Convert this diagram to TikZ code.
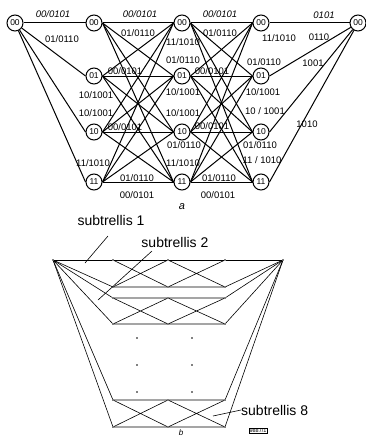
\documentclass[tikz,border=0pt]{standalone}
\usepackage{fontspec}
\setmainfont{Liberation Sans}
\begin{document}
\begin{tikzpicture}[x=1pt,y=-1pt,
  st/.style={circle,draw,line width=1pt,inner sep=0pt,minimum size=16pt,font=\fontsize{8.5}{9}\selectfont},
  lb/.style={font=\fontsize{9.5}{10}\selectfont,inner sep=0.5pt},
  lbi/.style={lb,font=\fontsize{9.5}{10}\selectfont\itshape},
  ed/.style={line width=1pt},
  tr/.style={line width=0.6pt},
  dt/.style={circle,fill,inner sep=0pt,minimum size=1.8pt},
  sub/.style={font=\fontsize{14}{15}\selectfont,inner sep=0pt}]
\useasboundingbox (0,0) rectangle (365,436);
% ---------- top trellis ----------
\node[st] (S) at (15,23) {00};
\foreach \n/\y in {00/23,01/76,10/132,11/182} {
  \node[st] (A\n) at (94,\y) {\n};
  \node[st] (B\n) at (182,\y) {\n};
  \node[st] (C\n) at (261,\y) {\n};
}
\node[st] (E) at (358,23) {00};
\foreach \n in {00,01,10,11} {
  \draw[ed] (S) -- (A\n.west);
  \draw[ed] (C\n.east) -- (E);
  \foreach \m in {00,01,10,11} {
    \draw[ed] (A\n.east) -- (B\m.west);
    \draw[ed] (B\n.east) -- (C\m.west);
  }
}
% labels
\node[lbi] (l1) at (53,14) {00/0101};
\node[lbi] (l2) at (140,14) {00/0101};
\node[lbi] (l3) at (220,14) {00/0101};
\node[lbi] (l4) at (324,15) {0101};
\node[lb] (l5) at (62,39) {01/0110};
\node[lb] (l6) at (138,33) {01/0110};
\node[lb] (l7) at (220,33) {01/0110};
\node[lb] (l8) at (319,37) {0110};
\node[lb] (l9) at (183,42) {11/1010};
\node[lb] (l10) at (279,38) {11/1010};
\node[lb] (l11) at (183,60) {01/0110};
\node[lb] (l12) at (264,62) {01/0110};
\node[lb] (l13) at (313,63) {1001};
\node[lb] (l14) at (125,71) {00/0101};
\node[lb] (l15) at (212,71) {00/0101};
\node[lb] (l16) at (96,95) {10/1001};
\node[lb] (l17) at (183,92) {10/1001};
\node[lb] (l18) at (263,92) {10/1001};
\node[lb] (l19) at (96,113) {10/1001};
\node[lb] (l20) at (183,113) {10/1001};
\node[lb] (l21) at (265,111) {10 / 1001};
\node[lb] (l22) at (125,127) {00/0101};
\node[lb] (l23) at (212,126) {00/0101};
\node[lb] (l24) at (307,124) {1010};
\node[lb] (l25) at (184,145) {01/0110};
\node[lb] (l26) at (260,145) {01/0110};
\node[lb] (l27) at (93,163) {11/1010};
\node[lb] (l28) at (183,163) {11/1010};
\node[lb] (l29) at (262,160) {11 / 1010};
\node[lb] (l30) at (137,178) {01/0110};
\node[lb] (l31) at (219,178) {01/0110};
\node[lb] (l32) at (137,195) {00/0101};
\node[lb] (l33) at (218,195) {00/0101};
\node[font=\fontsize{11}{11}\selectfont\itshape] (capa) at (182,207) {a};
% ---------- bottom trellis ----------
\node[dt] (L) at (53,260) {};
\node[dt] (R) at (283,260) {};
\foreach \i/\a/\b in {1/260/287, 2/298/324, 8/400/427} {
  \node[dt] (u\i1) at (113,\a) {};
  \node[dt] (u\i2) at (168,\a) {};
  \node[dt] (u\i3) at (225,\a) {};
  \node[dt] (d\i1) at (113,\b) {};
  \node[dt] (d\i2) at (168,\b) {};
  \node[dt] (d\i3) at (225,\b) {};
  \draw[tr] (L) -- (u\i1);
  \draw[tr] (L) -- (d\i1);
  \draw[tr] (u\i1) -- (u\i2) -- (u\i3) -- (R);
  \draw[tr] (d\i1) -- (d\i2) -- (d\i3) -- (R);
  \draw[tr] (u\i1) -- (d\i2) (d\i1) -- (u\i2);
  \draw[tr] (u\i2) -- (d\i3) (d\i2) -- (u\i3);
}
\foreach \y [count=\k] in {338,365,392} {
  \node[dt] (v\k a) at (137,\y) {};
  \node[dt] (v\k b) at (192,\y) {};
}
\node[sub] (s1) at (111,220) {subtrellis 1};
\node[sub] (s2) at (175,242) {subtrellis\hspace{4pt}2};
\node[sub,anchor=west] (s8) at (241,410) {subtrellis 8};
\coordinate (s1a) at (108,236);
\coordinate (s1b) at (85,263);
\coordinate (s2a) at (152,251);
\coordinate (s2b) at (98,300);
\coordinate (s8b) at (213,416);
\draw[tr] (s1a) -- (s1b);
\draw[tr] (s2a) -- (s2b);
\draw[tr] (s8.west) -- (s8b);
\node[font=\fontsize{8}{8}\selectfont\itshape,anchor=base,inner sep=0pt] (capb) at (181,435) {b};
\node[draw,line width=0.3pt,inner sep=0.6pt,font=\fontsize{5.5}{6}\selectfont] (fig) at (258,431) {9887/1};
\end{tikzpicture}
\end{document}
